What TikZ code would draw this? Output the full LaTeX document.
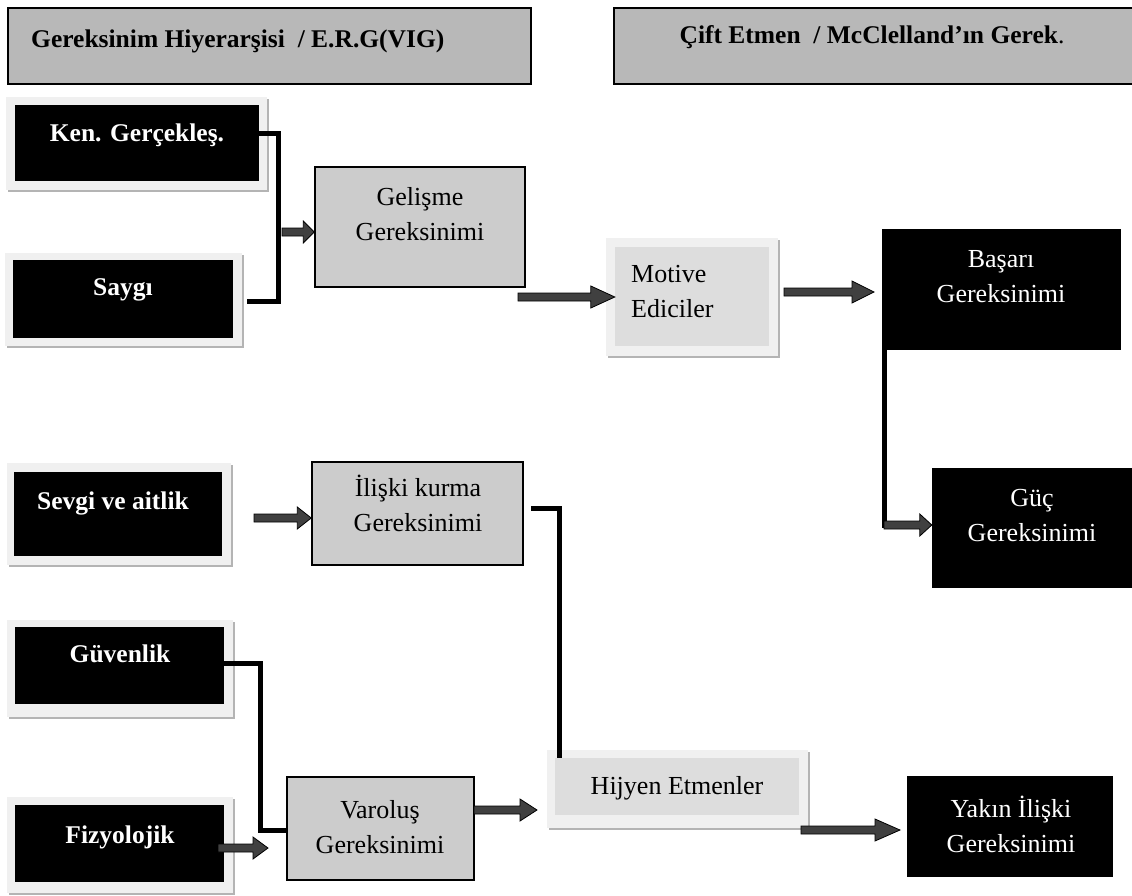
\documentclass[tikz,border=0pt]{standalone}
\usepackage{fontspec}
\setmainfont{Liberation Serif}
\usetikzlibrary{calc,fit,shadows}
\definecolor{hdrfill}{HTML}{B8B8B8}
\definecolor{midfill}{HTML}{CCCCCC}
\definecolor{innerfill}{HTML}{DDDDDD}
\definecolor{framefill}{HTML}{F0F0F0}
\definecolor{shadowgray}{HTML}{B4B4B4}
\definecolor{arrowfill}{HTML}{404040}

\newcommand\blockarrow[3]{%
  \path[draw=black,line width=0.8pt,fill=arrowfill,line join=miter] let \p1=(#1), \p2=(#2) in
   (\x1,\y1+4pt) -- (\x2-#3,\y1+4pt) -- (\x2-#3,\y1+11pt) -- (\x2,\y1) -- (\x2-#3,\y1-11pt) -- (\x2-#3,\y1-4pt) -- (\x1,\y1-4pt) -- cycle;}

\begin{document}
\begin{tikzpicture}[x=1pt,y=-1pt,
  hdr/.style={draw=black,line width=1.5pt,fill=hdrfill,inner sep=0pt},
  blk/.style={fill=black,inner sep=0pt},
  frm/.style={fill=framefill,inner sep=0pt,general shadow={fill=shadowgray,shadow xshift=2pt,shadow yshift=-2pt}},
  mid/.style={draw=black,line width=1.5pt,fill=midfill,inner sep=0pt},
  inn/.style={fill=innerfill,inner sep=0pt},
  wb/.style={text=white,font=\fontsize{25.5}{30}\selectfont\bfseries,inner sep=0pt,anchor=base},
  wr/.style={text=white,font=\fontsize{26}{35}\selectfont,align=center,inner sep=0pt},
  kr/.style={text=black,font=\fontsize{26}{35}\selectfont,align=center,inner sep=0pt},
  hb/.style={font=\fontsize{25.5}{30}\selectfont\bfseries,inner sep=0pt,anchor=base},
  bracket/.style={line width=5pt,draw=black,line cap=butt,line join=miter}]
\useasboundingbox (0,0) rectangle (1132,895);
\fill[white] (0,0) rectangle (1132,895);

% headers
\node[hdr,fit={(8,8)(531,84)}] (h1) {};
\node[hb,anchor=base west] (h1t) at (31,47) {Gereksinim Hiyerarşisi\ \ / E.R.G(VIG)};
\node[hdr,fit={(614,8)(1140,84)}] (h2) {};
\node[hb] (h2t) at (872,43) {Çift Etmen\ \ / McClelland’ın Gerek{\mdseries .}};

% Ken. Gerçekleş.
\node[frm,fit={(6,97)(267,190)}] (kenf) {};
\node[blk,fit={(15,105)(259,181)}] (ken) {};
\node[wb] (kent) at (137,141) {Ken. Gerçekleş.};

% Saygı
\node[frm,fit={(5,253)(242,346)}] (sayf) {};
\node[blk,fit={(13,260)(233,338)}] (say) {};
\node[wb] (sayt) at (123,295) {Saygı};

\coordinate (kb) at (278,133);
\coordinate (sb) at (278,301);
\coordinate (se) at (247,301);
\draw[bracket] (ken.east |- kb) -- (kb) -- (sb) -- (se);

% Gelişme
\node[mid,fit={(315,167)(525,287)}] (gel) {};
\node[kr] (gelt) at (420,214) {Gelişme\\Gereksinimi};
\coordinate (a1) at (282,232);
\blockarrow{a1}{gel.west |- a1}{11pt}

% Motive Ediciler
\node[frm,fit={(606,238)(778,356)}] (motf) {};
\node[inn,fit={(615,247)(769,346)}] (mot) {};
\node[kr,align=left,anchor=west] (mott) at (631,292) {Motive\\Ediciler};
\coordinate (a2) at (518,297);
\blockarrow{a2}{mot.west |- a2}{24pt}
\coordinate (a3) at (784,292);
\coordinate (a3e) at (874,292);
\blockarrow{a3}{a3e}{22pt}

% Başarı
\node[blk,fit={(882,229)(1121,350)}] (bas) {};
\node[wr] (bast) at (1001,277) {Başarı\\Gereksinimi};
\coordinate (vb) at (884,528);
\draw[bracket] (bas.south -| vb) -- (vb);

% Güç
\node[blk,fit={(932,468)(1140,588)}] (guc) {};
\node[wr] (guct) at (1032,516) {Güç\\Gereksinimi};
\coordinate (a4) at (884,525);
\blockarrow{a4}{guc.west |- a4}{12pt}

% Sevgi ve aitlik
\node[frm,fit={(7,463)(231,565)}] (sevf) {};
\node[blk,fit={(14,472)(222,556)}] (sev) {};
\node[wb] (sevt) at (113,509) {Sevgi ve aitlik};

% İlişki kurma
\node[mid,fit={(312,462)(523,565)}] (ili) {};
\node[kr] (ilit) at (418,503) {İlişki kurma\\Gereksinimi};
\coordinate (a5) at (254,518);
\blockarrow{a5}{ili.west |- a5}{14pt}

% Güvenlik
\node[frm,fit={(7,620)(233,717)}] (guvf) {};
\node[blk,fit={(15,627)(224,704)}] (guv) {};
\node[wb] (guvt) at (120,662) {Güvenlik};

% Fizyolojik
\node[frm,fit={(7,797)(233,893)}] (fizf) {};
\node[blk,fit={(15,805)(224,882)}] (fiz) {};
\node[wb] (fizt) at (120,843) {Fizyolojik};

% Varoluş
\node[mid,fit={(287,777)(474,880)}] (var) {};
\node[kr] (vart) at (380,827) {Varoluş\\Gereksinimi};
\coordinate (c6a) at (260,663);
\coordinate (c6b) at (260,830);
\draw[bracket] (guv.east |- c6a) -- (c6a) -- (c6b) -- (var.west |- c6b);
\coordinate (a7) at (218,848);
\coordinate (a7e) at (268,848);
\blockarrow{a7}{a7e}{15pt}

% Hijyen Etmenler
\node[frm,fit={(547,750)(808,828)}] (hijf) {};
\node[inn,fit={(555,758)(799,815)}] (hij) {};
\node[kr,anchor=base] (hijt) at (677,794) {Hijyen Etmenler};
\coordinate (c5a) at (531,508);
\coordinate (c5b) at (559,508);
\draw[bracket] (c5a) -- (c5b) -- (c5b |- hij.north);
\coordinate (a8) at (474,810);
\coordinate (a8e) at (537,810);
\blockarrow{a8}{a8e}{17pt}

% Yakın İlişki
\node[blk,fit={(907,776)(1113,877)}] (yak) {};
\node[wr] (yakt) at (1011,824) {Yakın İlişki\\Gereksinimi};
\coordinate (a9) at (801,830);
\coordinate (a9e) at (900,830);
\blockarrow{a9}{a9e}{25pt}
\end{tikzpicture}
\end{document}
